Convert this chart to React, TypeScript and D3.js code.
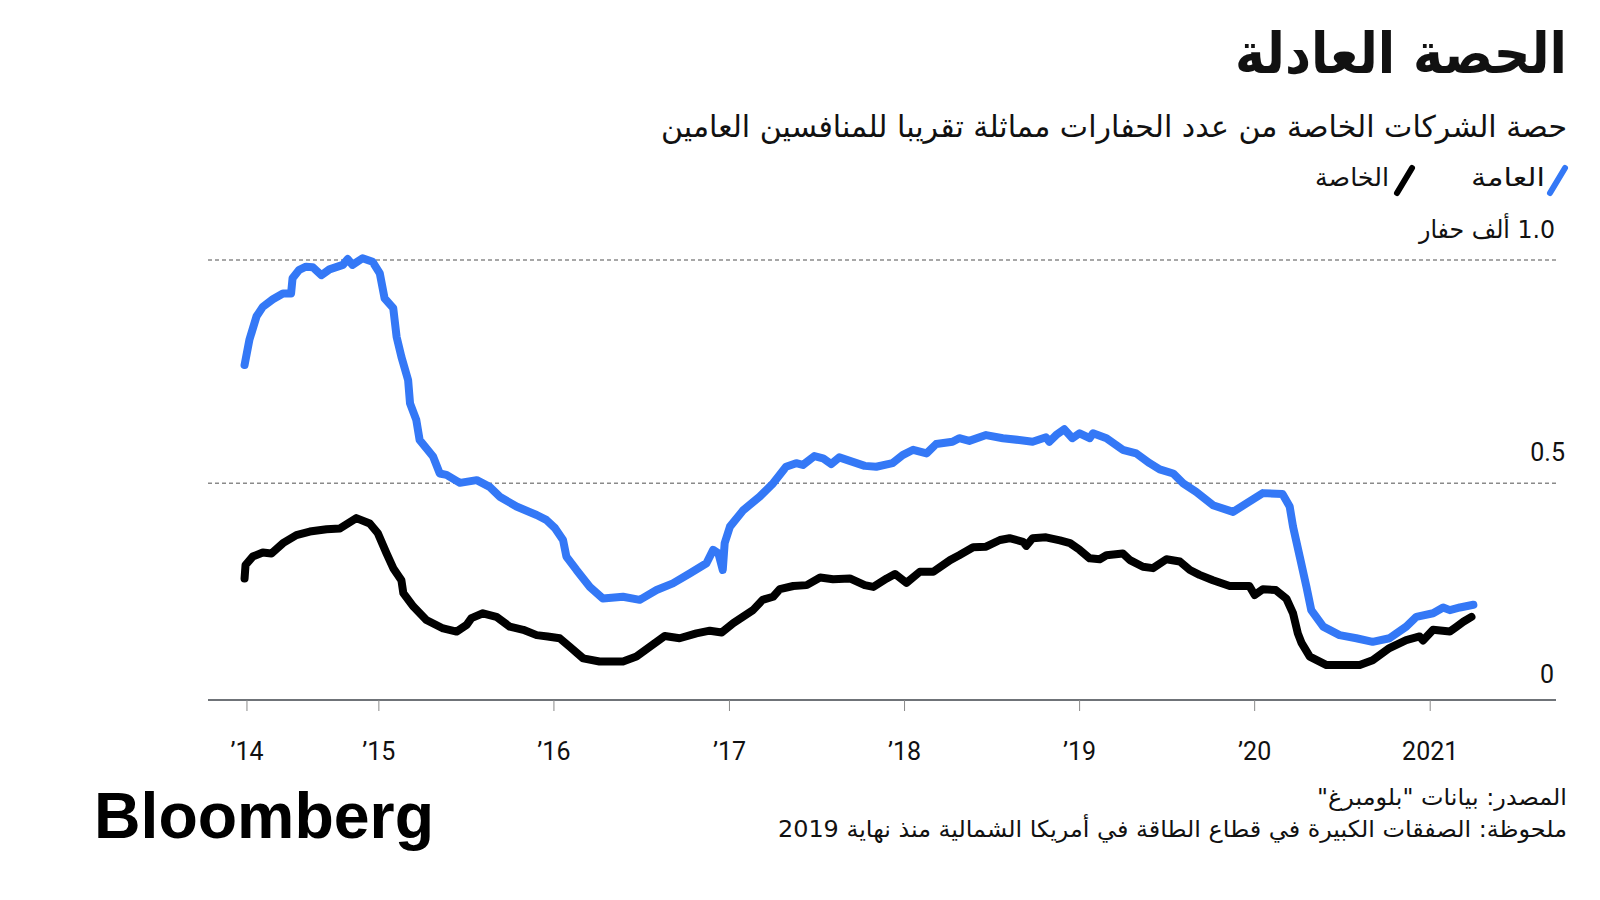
import * as d3 from 'd3';

// الخاصة / العامة — rig share in thousand rigs
const publicDates = [
  '2014-03-27', '2014-04-06', '2014-04-21', '2014-05-04', '2014-05-25', '2014-06-15', '2014-07-02', '2014-07-05',
  '2014-07-19', '2014-08-02', '2014-08-16', '2014-09-03', '2014-09-20', '2014-10-18', '2014-10-28', '2014-11-07',
  '2014-11-28', '2014-12-19', '2015-01-03', '2015-01-13', '2015-01-31', '2015-02-07', '2015-02-17', '2015-03-03',
  '2015-03-07', '2015-03-20', '2015-03-27', '2015-04-24', '2015-05-08', '2015-05-22', '2015-06-19', '2015-07-24',
  '2015-08-20', '2015-09-10', '2015-10-15', '2015-11-26', '2015-12-16', '2016-01-03', '2016-01-20', '2016-01-27',
  '2016-02-17', '2016-03-16', '2016-04-12', '2016-05-24', '2016-06-28', '2016-08-02', '2016-09-05', '2016-10-10',
  '2016-11-14', '2016-11-28', '2016-12-09', '2016-12-18', '2016-12-22', '2017-01-02', '2017-01-30', '2017-03-05',
  '2017-04-02', '2017-04-29', '2017-05-20', '2017-06-03', '2017-06-27', '2017-07-15', '2017-08-01', '2017-08-18',
  '2017-09-15', '2017-10-10', '2017-11-03', '2017-12-07', '2017-12-28', '2018-01-19', '2018-02-16', '2018-03-08',
  '2018-04-11', '2018-04-25', '2018-05-16', '2018-06-20', '2018-07-25', '2018-08-28', '2018-09-25', '2018-10-23',
  '2018-10-30', '2018-11-13', '2018-11-30', '2018-12-17', '2019-01-01', '2019-01-22', '2019-01-29', '2019-02-26',
  '2019-04-01', '2019-04-29', '2019-05-27', '2019-06-17', '2019-07-15', '2019-08-05', '2019-09-01', '2019-10-06',
  '2019-11-17', '2019-12-15', '2020-01-18', '2020-02-28', '2020-03-14', '2020-03-21', '2020-04-04', '2020-04-18',
  '2020-04-28', '2020-05-23', '2020-06-26', '2020-07-31', '2020-09-03', '2020-10-08', '2020-11-12', '2020-12-03',
  '2021-01-07', '2021-01-28', '2021-02-11', '2021-03-04', '2021-04-01'
];
const publicValues = [
  0.765, 0.821, 0.874, 0.895, 0.912, 0.925, 0.925, 0.959,
  0.978, 0.985, 0.984, 0.966, 0.979, 0.989, 1.002, 0.989,
  1.004, 0.996, 0.970, 0.914, 0.892, 0.828, 0.783, 0.731,
  0.679, 0.642, 0.597, 0.560, 0.522, 0.519, 0.501, 0.507,
  0.492, 0.470, 0.448, 0.429, 0.418, 0.400, 0.373, 0.336,
  0.306, 0.268, 0.242, 0.246, 0.239, 0.261, 0.276, 0.298,
  0.321, 0.351, 0.343, 0.306, 0.366, 0.403, 0.440, 0.470,
  0.500, 0.537, 0.545, 0.541, 0.561, 0.556, 0.543, 0.558,
  0.548, 0.539, 0.537, 0.545, 0.563, 0.575, 0.567, 0.588,
  0.593, 0.601, 0.595, 0.608, 0.601, 0.597, 0.593, 0.603,
  0.593, 0.608, 0.621, 0.601, 0.612, 0.601, 0.612, 0.601,
  0.575, 0.567, 0.545, 0.531, 0.522, 0.500, 0.481, 0.451,
  0.436, 0.455, 0.478, 0.476, 0.448, 0.403, 0.336, 0.268,
  0.216, 0.179, 0.160, 0.153, 0.145, 0.153, 0.179, 0.201,
  0.209, 0.222, 0.216, 0.222, 0.228
];

const privateDates = [
  '2014-03-27', '2014-03-29', '2014-04-13', '2014-05-04', '2014-05-22', '2014-06-15', '2014-07-13', '2014-08-10',
  '2014-09-14', '2014-10-12', '2014-11-15', '2014-12-13', '2014-12-30', '2015-01-17', '2015-01-31', '2015-02-17',
  '2015-02-21', '2015-03-14', '2015-04-10', '2015-05-15', '2015-06-12', '2015-07-03', '2015-07-13', '2015-08-06',
  '2015-09-03', '2015-10-01', '2015-10-29', '2015-11-26', '2015-12-19', '2016-01-13', '2016-02-03', '2016-03-02',
  '2016-04-05', '2016-05-24', '2016-06-21', '2016-07-19', '2016-08-19', '2016-09-19', '2016-10-24', '2016-11-21',
  '2016-12-16', '2017-01-09', '2017-02-19', '2017-03-11', '2017-04-02', '2017-04-16', '2017-05-14', '2017-06-11',
  '2017-07-09', '2017-08-05', '2017-09-09', '2017-10-10', '2017-10-28', '2017-11-25', '2017-12-12', '2018-01-05',
  '2018-02-02', '2018-03-02', '2018-04-06', '2018-04-25', '2018-05-24', '2018-06-20', '2018-07-19', '2018-08-08',
  '2018-09-05', '2018-09-12', '2018-09-25', '2018-10-23', '2018-11-21', '2018-12-12', '2019-01-01', '2019-01-22',
  '2019-02-12', '2019-02-26', '2019-04-01', '2019-04-16', '2019-05-13', '2019-06-03', '2019-07-01', '2019-07-29',
  '2019-08-19', '2019-09-08', '2019-10-06', '2019-11-10', '2019-12-21', '2020-01-01', '2020-01-18', '2020-02-14',
  '2020-03-07', '2020-03-21', '2020-03-31', '2020-04-08', '2020-04-25', '2020-05-30', '2020-07-01', '2020-08-07',
  '2020-09-03', '2020-10-08', '2020-11-12', '2020-12-10', '2020-12-17', '2021-01-07', '2021-02-11', '2021-02-25',
  '2021-03-11', '2021-03-28'
];
const privateValues = [
  0.287, 0.317, 0.336, 0.345, 0.343, 0.366, 0.384, 0.392,
  0.397, 0.399, 0.422, 0.410, 0.388, 0.343, 0.310, 0.283,
  0.254, 0.224, 0.194, 0.175, 0.168, 0.183, 0.198, 0.209,
  0.201, 0.179, 0.172, 0.160, 0.157, 0.153, 0.134, 0.108,
  0.101, 0.101, 0.112, 0.134, 0.158, 0.153, 0.164, 0.170,
  0.166, 0.187, 0.216, 0.239, 0.246, 0.263, 0.270, 0.272,
  0.289, 0.285, 0.287, 0.272, 0.268, 0.287, 0.297, 0.277,
  0.302, 0.302, 0.328, 0.339, 0.357, 0.358, 0.373, 0.377,
  0.369, 0.360, 0.377, 0.379, 0.372, 0.366, 0.351, 0.332,
  0.330, 0.339, 0.343, 0.328, 0.313, 0.310, 0.330, 0.325,
  0.306, 0.295, 0.283, 0.270, 0.270, 0.250, 0.263, 0.261,
  0.242, 0.209, 0.164, 0.142, 0.112, 0.093, 0.093, 0.093,
  0.104, 0.131, 0.149, 0.157, 0.148, 0.172, 0.168, 0.179,
  0.190, 0.201
];

const tickDates = ['2014-04-01', '2015-01-01', '2016-01-01', '2017-01-01', '2018-01-01', '2019-01-01', '2020-01-01', '2021-01-01'];
const tickLabels = ['’14', '’15', '’16', '’17', '’18', '’19', '’20', '2021'];
const gridValues = [1, 0.5];

const PUBLIC_BLUE = '#3478f6';
const PRIVATE_BLACK = '#000000';
const AR = '"DejaVu Sans", sans-serif';
const NUM = 'Roboto, "Noto Sans", sans-serif';

const parse = d3.timeParse('%Y-%m-%d');

export default function App() {
  const width = 1600;
  const height = 900;
  const plotLeft = 208;
  const plotRight = 1556;
  const axisY = 700;

  const x = d3.scaleTime()
    .domain([parse('2014-01-01') as Date, parse('2021-01-01') as Date])
    .range([203.8, 1430.2]);
  const y = d3.scaleLinear().domain([0, 1]).range([706.6, 260]);

  const toPoints = (dates: string[], values: number[]) =>
    dates.map((d, i) => ({ date: parse(d) as Date, value: values[i] }));

  const line = d3.line<{ date: Date; value: number }>()
    .x(d => x(d.date))
    .y(d => y(d.value));

  const publicPath = line(toPoints(publicDates, publicValues)) || '';
  const privatePath = line(toPoints(privateDates, privateValues)) || '';

  return (
    <svg width={width} height={height} style={{ position: 'absolute', left: 0, top: 0, background: '#fff' }}>
      {/* title block */}
      <text x={1567} y={73} direction="rtl" textAnchor="start" fontFamily={AR} fontWeight="bold" fontSize={56}
        textLength={332} lengthAdjust="spacingAndGlyphs" fill="#111">الحصة العادلة</text>
      <text x={1567} y={137} direction="rtl" textAnchor="start" fontFamily={AR} fontSize={30}
        textLength={906} lengthAdjust="spacingAndGlyphs" fill="#111">حصة الشركات الخاصة من عدد الحفارات مماثلة تقريبا للمنافسين العامين</text>

      {/* legend */}
      <line x1={1550} y1={193} x2={1565} y2={168} stroke={PUBLIC_BLUE} strokeWidth={6} strokeLinecap="round" />
      <text x={1545} y={186} direction="rtl" textAnchor="start" fontFamily={AR} fontSize={25}
        textLength={74} lengthAdjust="spacingAndGlyphs" fill="#111">العامة</text>
      <line x1={1397} y1={193} x2={1412} y2={168} stroke={PRIVATE_BLACK} strokeWidth={6} strokeLinecap="round" />
      <text x={1389} y={186} direction="rtl" textAnchor="start" fontFamily={AR} fontSize={25}
        textLength={74} lengthAdjust="spacingAndGlyphs" fill="#111">الخاصة</text>

      {/* y gridlines and labels */}
      {gridValues.map(v => (
        <line key={v} x1={plotLeft} x2={plotRight} y1={y(v)} y2={y(v)} stroke="#8a8a8a" strokeWidth={1.5} strokeDasharray="4,3" />
      ))}
      <text x={1555} y={238} direction="rtl" textAnchor="start" fontFamily={AR} fontSize={25}
        textLength={136} lengthAdjust="spacingAndGlyphs" fill="#111">1.0 ألف حفار</text>
      <text x={1565} y={y(0.5) - 22} textAnchor="end" fontFamily={NUM} fontSize={25} fill="#111">0.5</text>
      <text x={1554} y={y(0) - 24} textAnchor="end" fontFamily={NUM} fontSize={25} fill="#111">0</text>

      {/* x axis */}
      <line x1={plotLeft} x2={plotRight} y1={axisY} y2={axisY} stroke="#6f7378" strokeWidth={2} />
      {tickDates.map((d, i) => {
        const tx = x(parse(d) as Date);
        return (
          <g key={d}>
            <line x1={tx} x2={tx} y1={axisY} y2={axisY + 11} stroke="#8a8a8a" strokeWidth={1} />
            <text x={tx} y={760} textAnchor="middle" fontFamily={NUM} fontSize={25} fill="#111">{tickLabels[i]}</text>
          </g>
        );
      })}

      {/* series */}
      <path d={privatePath} fill="none" stroke={PRIVATE_BLACK} strokeWidth={8} strokeLinejoin="round" strokeLinecap="round" />
      <path d={publicPath} fill="none" stroke={PUBLIC_BLUE} strokeWidth={8} strokeLinejoin="round" strokeLinecap="round" />

      {/* footer */}
      <text x={94} y={838} fontFamily='"Liberation Sans", Arial, sans-serif' fontWeight="bold" fontSize={65}
        textLength={340} lengthAdjust="spacingAndGlyphs" fill="#000">Bloomberg</text>
      <text x={1567} y={805} direction="rtl" textAnchor="start" fontFamily={AR} fontSize={23}
        textLength={250} lengthAdjust="spacingAndGlyphs" fill="#111">المصدر: بيانات "بلومبرغ"</text>
      <text x={1567} y={837} direction="rtl" textAnchor="start" fontFamily={AR} fontSize={23}
        textLength={789} lengthAdjust="spacingAndGlyphs" fill="#111">ملحوظة: الصفقات الكبيرة في قطاع الطاقة في أمريكا الشمالية منذ نهاية 2019</text>
    </svg>
  );
}
